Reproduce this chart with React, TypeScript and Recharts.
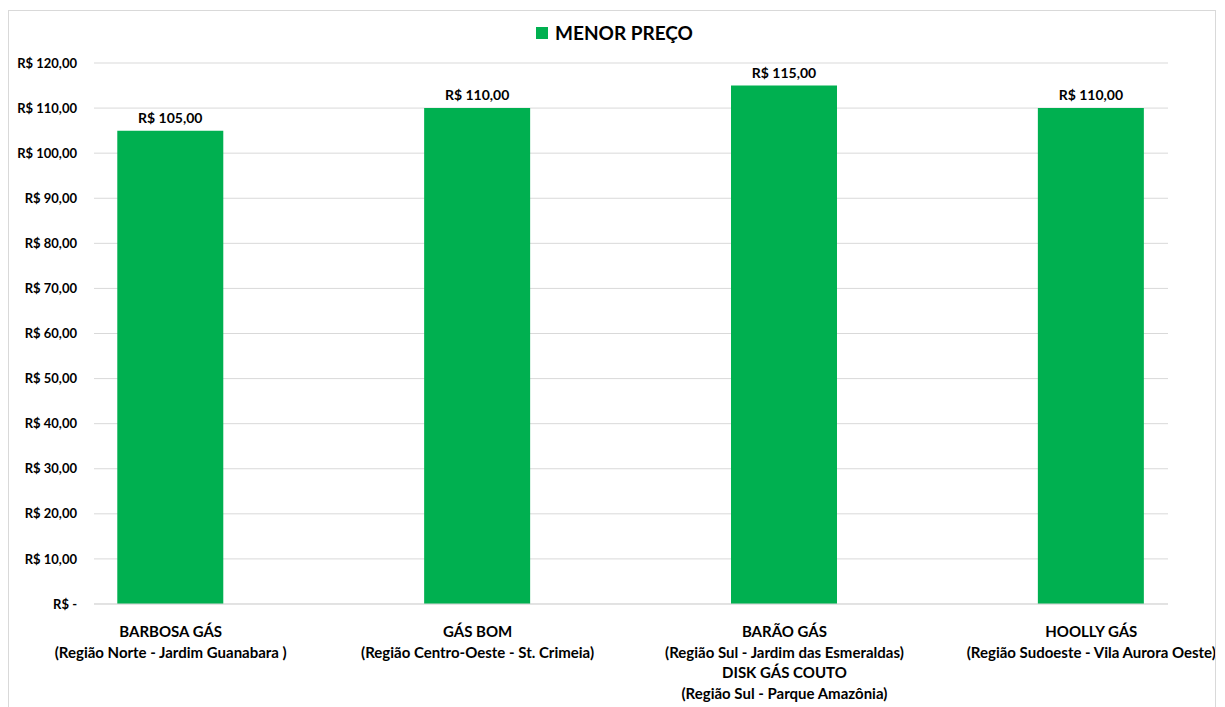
import { BarChart, Bar, CartesianGrid, XAxis, YAxis, Legend, LabelList } from "recharts";

const categories = [
  ["BARBOSA GÁS", "(Região Norte - Jardim Guanabara )"],
  ["GÁS BOM", "(Região Centro-Oeste - St. Crimeia)"],
  ["BARÃO GÁS", "(Região Sul - Jardim das Esmeraldas)", "DISK GÁS COUTO", "(Região Sul - Parque Amazônia)"],
  ["HOOLLY GÁS", "(Região Sudoeste - Vila Aurora Oeste)"],
];
const prices = [105, 110, 115, 110];
const yTicks = [0, 10, 20, 30, 40, 50, 60, 70, 80, 90, 100, 110, 120];

const data = prices.map((v, i) => ({ idx: i, price: v }));

const FONT = "Lato, 'Open Sans', sans-serif";
const GREEN = "#00B050";

const money = (v: number) =>
  v === 0 ? "R$ -" : "R$ " + v.toFixed(2).replace(".", ",");

const XTick = (props: any) => {
  const { x, y, payload } = props;
  const lines = categories[payload.value] || [];
  return (
    <text x={x} y={y} textAnchor="middle" fontFamily={FONT} fontWeight="bold" fontSize={15} fill="#000">
      {lines.map((l, i) => (
        <tspan key={i} x={x} dy={i === 0 ? 25 : 20.5}>
          {l}
        </tspan>
      ))}
    </text>
  );
};

const LegendBox = () => (
  <div style={{ display: "flex", justifyContent: "center", alignItems: "center", paddingLeft: 52, fontFamily: FONT, fontWeight: "bold", fontSize: 19, color: "#000" }}>
    <span style={{ width: 12, height: 12, background: GREEN, display: "inline-block", marginRight: 7 }} />
    MENOR PREÇO
  </div>
);

export default function App() {
  return (
    <div style={{ width: 1206, height: 696, marginTop: 2, border: "1px solid #d9d9d9", borderBottom: "none", background: "#fff" }}>
      <BarChart width={1206} height={695} data={data} margin={{ top: 10, right: 47, bottom: 12, left: 0 }}>
        <Legend verticalAlign="top" height={42} content={<LegendBox />} />
        <CartesianGrid stroke="#d9d9d9" vertical={false} />
        <XAxis
          type="number"
          dataKey="idx"
          domain={[-0.25, 3.25]}
          ticks={[0, 1, 2, 3]}
          height={90}
          axisLine={{ stroke: "#d9d9d9" }}
          tickLine={false}
          tick={<XTick />}
          interval={0}
        />
        <YAxis
          width={85}
          domain={[0, 120]}
          ticks={yTicks}
          axisLine={false}
          tickLine={false}
          tickMargin={11}
          tickFormatter={money}
          tick={{ fontFamily: FONT, fontWeight: "bold", fontSize: 13, fill: "#000" }}
        />
        <Bar dataKey="price" fill={GREEN} barSize={106} isAnimationActive={false}>
          <LabelList
            dataKey="price"
            position="top"
            offset={8}
            formatter={(v: any) => money(Number(v))}
            style={{ fontFamily: FONT, fontWeight: "bold", fontSize: 14, fill: "#000" }}
          />
        </Bar>
      </BarChart>
    </div>
  );
}
